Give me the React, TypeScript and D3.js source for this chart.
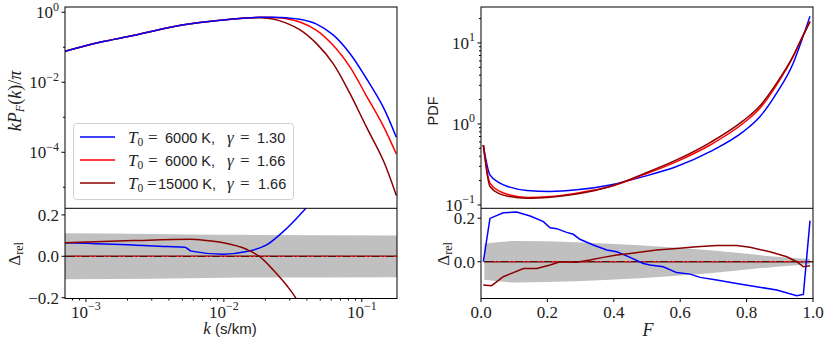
import React from 'react';
import * as d3 from 'd3';

// ---- left panel: flux power spectrum ----
const kTop = [7.05e-4, 1.26e-3, 2.2e-3, 3.85e-3, 6.7e-3, 1.17e-2, 1.82e-2, 2.28e-2, 2.84e-2, 3.55e-2, 4.7e-2, 6.2e-2, 8.2e-2, 0.108, 0.143, 0.178];
const pkBlue = [0.0769, 0.139, 0.216, 0.357, 0.507, 0.645, 0.72, 0.72, 0.695, 0.63, 0.46, 0.225, 0.0665, 0.0128, 1.95e-3, 2.68e-4];
const pkRed = [0.0769, 0.139, 0.216, 0.357, 0.507, 0.645, 0.715, 0.705, 0.65, 0.525, 0.305, 0.114, 0.0275, 4.1e-3, 5.7e-4, 8.9e-5];
const pkDark = [0.0769, 0.139, 0.216, 0.357, 0.507, 0.645, 0.70, 0.645, 0.49, 0.318, 0.127, 0.0342, 4.8e-3, 5.3e-4, 5.9e-5, 5.78e-6];

const kRelBlue = [7.05e-4, 2.2e-3, 3.85e-3, 5.2e-3, 5.8e-3, 9.9e-3, 1.46e-2, 2.04e-2, 2.69e-2, 3.55e-2, 3.97e-2, 4.6e-2];
const relBlueL = [0.066, 0.055, 0.047, 0.044, 0.025, 0.01, 0.023, 0.055, 0.119, 0.2, 0.236, 0.3];
const kRelDark = [7.05e-4, 2.2e-3, 5.67e-3, 7.5e-3, 9.9e-3, 1.46e-2, 1.82e-2, 2.28e-2, 2.84e-2, 3.36e-2, 3.7e-2];
const relDarkL = [0.066, 0.076, 0.082, 0.076, 0.066, 0.034, -0.002, -0.066, -0.139, -0.207, -0.26];
const kBand = [7.05e-4, 3e-3, 1e-2, 0.18];
const bandL = [0.111, 0.108, 0.104, 0.101];

// ---- right panel: flux PDF ----
const fPdf = [0.007, 0.027, 0.057, 0.087, 0.138, 0.208, 0.288, 0.389, 0.489, 0.589, 0.69, 0.79, 0.84, 0.89, 0.94, 0.966, 0.991];
const pdfBlue = [0.55, 0.235, 0.186, 0.166, 0.151, 0.147, 0.154, 0.177, 0.224, 0.298, 0.456, 0.805, 1.23, 2.39, 5.59, 10.8, 21.4];
const pdfRed = [0.55, 0.186, 0.147, 0.133, 0.124, 0.127, 0.14, 0.169, 0.235, 0.343, 0.55, 1.02, 1.56, 3.02, 6.76, 11.4, 18.3];
const pdfDark = [0.55, 0.169, 0.137, 0.127, 0.121, 0.125, 0.137, 0.169, 0.242, 0.36, 0.589, 1.1, 1.67, 3.17, 6.88, 11.4, 18.3];

const fRelBlue = [0.007, 0.027, 0.067, 0.107, 0.148, 0.188, 0.208, 0.228, 0.258, 0.278, 0.298, 0.338, 0.379, 0.409, 0.449, 0.489, 0.509, 0.549, 0.589, 0.63, 0.66, 0.71, 0.77, 0.83, 0.891, 0.951, 0.971, 0.991];
const relBlueR = [0, 0.199, 0.225, 0.228, 0.21, 0.184, 0.156, 0.152, 0.135, 0.126, 0.103, 0.077, 0.054, 0.046, 0.02, -0.008, -0.015, -0.023, -0.05, -0.057, -0.072, -0.084, -0.1, -0.115, -0.13, -0.156, -0.15, 0.189];
const fRelDark = [0.007, 0.032, 0.067, 0.128, 0.168, 0.208, 0.238, 0.288, 0.328, 0.368, 0.409, 0.449, 0.489, 0.529, 0.589, 0.65, 0.71, 0.77, 0.81, 0.87, 0.921, 0.951, 0.971, 0.991];
const relDarkR = [-0.107, -0.11, -0.069, -0.031, -0.031, -0.015, 0, -0.002, 0.008, 0.02, 0.031, 0.038, 0.046, 0.054, 0.061, 0.069, 0.074, 0.074, 0.066, 0.046, 0.023, 0, -0.023, -0.018];
const fBand = [0.01, 0.107, 0.288, 0.489, 0.69, 0.891, 0.991];
const bandR = [0.083, 0.095, 0.09, 0.075, 0.053, 0.023, 0.012];

// legend rows; the third one is typeset tighter in the original
const legendLabels = [
  { color: '#0000ff', temp: '6000 K,', gamma: '1.30', pos: [128, 148, 165, 227, 240, 257] },
  { color: '#ff0000', temp: '6000 K,', gamma: '1.66', pos: [128, 148, 165, 227, 240, 257] },
  { color: '#8b0000', temp: '15000 K,', gamma: '1.66', pos: [128, 147, 158, 227, 240, 258] },
];

const SERIF = '"Liberation Serif", serif';
const SANS = '"Liberation Sans", sans-serif';
const TICK = 17;

const yTop = 7;
const yMid = 208.3;
const yBot = 298.5;

const zip = (xs: number[], ys: number[]) => xs.map((x, i) => [x, ys[i]] as [number, number]);

const Pow = ({ x, y, exp, anchor }: { x: number; y: number; exp: string; anchor: string }) => (
  <text x={x} y={y} textAnchor={anchor} fontFamily={SERIF} fontSize={TICK} fill="#222">
    <tspan>10</tspan>
    <tspan dy={-7.5} fontSize={12}>{exp}</tspan>
  </text>
);

export default function App() {
  const xk = d3.scaleLog().domain([7.05e-4, 0.18]).range([65, 397]);
  const yPk = d3.scaleLog().domain([Math.pow(10, -5.6), Math.pow(10, 0.15)]).range([yMid, yTop]);
  const yRelL = d3.scaleLinear().domain([-0.204, 0.232]).range([yBot, yMid]);
  const xF = d3.scaleLinear().domain([0, 1]).range([481, 813]);
  const yPdf = d3.scaleLog().domain([Math.pow(10, -1.041), Math.pow(10, 1.444)]).range([yMid, yTop]);
  const yRelR = d3.scaleLinear().domain([-0.169, 0.2455]).range([yBot, yMid]);

  const mk = (sx: any, sy: any, curve: any) =>
    d3.line<[number, number]>().x(d => sx(d[0])).y(d => sy(d[1])).curve(curve);
  const band = (sx: any, sy: any) =>
    d3.area<[number, number]>().x(d => sx(d[0])).y0(d => sy(-d[1])).y1(d => sy(d[1])).curve(d3.curveMonotoneX);

  const linePk = mk(xk, yPk, d3.curveCatmullRom.alpha(0.5));
  const lineRelL = mk(xk, yRelL, d3.curveMonotoneX);
  const linePdf = mk(xF, yPdf, d3.curveMonotoneX);
  const lineRelR = mk(xF, yRelR, d3.curveLinear);

  const kMajor = [1e-3, 1e-2, 1e-1];
  const kMinor: number[] = [];
  [1e-4, 1e-3, 1e-2, 1e-1].forEach(b => d3.range(2, 10).forEach(m => {
    const v = b * m;
    if (v >= 7.05e-4 && v <= 0.18) kMinor.push(v);
  }));
  const pdfMinor: number[] = [];
  [1e-1, 1, 10].forEach(b => d3.range(2, 10).forEach(m => {
    const v = b * m;
    if (v <= yPdf.domain()[1]) pdfMinor.push(v);
  }));

  const curveStyle = { fill: 'none', strokeWidth: 1.5 };
  const zeroLine = (x0: number, x1: number, y: number) => (
    <g>
      <line x1={x0} x2={x1} y1={y} y2={y} stroke="#5a0c0c" strokeWidth={1.6} />
      <line x1={x0 + 10} x2={x1} y1={y} y2={y} stroke="#ff2020" strokeWidth={1.2} strokeDasharray="2.5,1.5,2.5,8" />
    </g>
  );

  return (
    <svg width={830} height={348} style={{ position: 'absolute', left: 0, top: 0, background: '#fff' }}>
      <defs>
        <clipPath id="cLT"><rect x={65} y={yTop} width={332} height={yMid - yTop} /></clipPath>
        <clipPath id="cLB"><rect x={65} y={yMid} width={332} height={yBot - yMid} /></clipPath>
        <clipPath id="cRT"><rect x={481} y={yTop} width={332} height={yMid - yTop} /></clipPath>
        <clipPath id="cRB"><rect x={481} y={yMid} width={332} height={yBot - yMid} /></clipPath>
      </defs>

      {/* left top */}
      <g clipPath="url(#cLT)">
        <path d={linePk(zip(kTop, pkDark))!} stroke="#8b0000" {...curveStyle} />
        <path d={linePk(zip(kTop, pkRed))!} stroke="#ff0000" {...curveStyle} />
        <path d={linePk(zip(kTop, pkBlue))!} stroke="#0000ff" {...curveStyle} />
      </g>
      {/* left bottom */}
      <g clipPath="url(#cLB)">
        <path d={band(xk, yRelL)(zip(kBand, bandL))!} fill="#c0c0c0" />
        {zeroLine(65, 397, yRelL(0))}
        <path d={lineRelL(zip(kRelBlue, relBlueL))!} stroke="#0000ff" {...curveStyle} />
        <path d={lineRelL(zip(kRelDark, relDarkL))!} stroke="#8b0000" {...curveStyle} />
      </g>
      {/* right top */}
      <g clipPath="url(#cRT)">
        <path d={linePdf(zip(fPdf, pdfBlue))!} stroke="#0000ff" {...curveStyle} />
        <path d={linePdf(zip(fPdf, pdfRed))!} stroke="#ff0000" {...curveStyle} />
        <path d={linePdf(zip(fPdf, pdfDark))!} stroke="#8b0000" {...curveStyle} />
      </g>
      {/* right bottom */}
      <g clipPath="url(#cRB)">
        <path d={band(xF, yRelR)(zip(fBand, bandR))!} fill="#c0c0c0" />
        {zeroLine(484, 813, yRelR(0))}
        <path d={lineRelR(zip(fRelBlue, relBlueR))!} stroke="#0000ff" {...curveStyle} />
        <path d={lineRelR(zip(fRelDark, relDarkR))!} stroke="#8b0000" {...curveStyle} />
      </g>

      {/* frames */}
      <g fill="none" stroke="#000" strokeWidth={1}>
        <rect x={65} y={yTop} width={332} height={yBot - yTop} />
        <line x1={65} x2={397} y1={yMid} y2={yMid} />
        <rect x={481} y={yTop} width={332} height={yBot - yTop} />
        <line x1={481} x2={813} y1={yMid} y2={yMid} />
      </g>

      {/* left top y ticks */}
      {[0, -2, -4].map(e => (
        <g key={'lt' + e}>
          <line x1={61.5} x2={65} y1={yPk(Math.pow(10, e))} y2={yPk(Math.pow(10, e))} stroke="#000" />
          <Pow x={59} y={yPk(Math.pow(10, e)) + 6} exp={e === 0 ? '0' : '\u2212' + -e} anchor="end" />
        </g>
      ))}
      {[-1, -3, -5].map(e => (
        <line key={'ltm' + e} x1={63} x2={65} y1={yPk(Math.pow(10, e))} y2={yPk(Math.pow(10, e))} stroke="#000" />
      ))}

      {/* left bottom y ticks */}
      {[0.2, 0, -0.2].map(v => (
        <g key={'lb' + v}>
          <line x1={61.5} x2={65} y1={yRelL(v)} y2={yRelL(v)} stroke="#000" />
          <text x={59} y={yRelL(v) + 6} textAnchor="end" fontFamily={SERIF} fontSize={TICK} fill="#222">
            {(v < 0 ? '\u2212' : '') + Math.abs(v).toFixed(1)}
          </text>
        </g>
      ))}

      {/* left x ticks */}
      {kMajor.map((v, i) => (
        <g key={'kx' + v}>
          <line x1={xk(v)} x2={xk(v)} y1={yBot} y2={yBot + 3.5} stroke="#000" />
          <Pow x={xk(v)} y={yBot + 19} exp={'\u2212' + (3 - i)} anchor="middle" />
        </g>
      ))}
      {kMinor.map(v => (
        <line key={'kxm' + v} x1={xk(v)} x2={xk(v)} y1={yBot} y2={yBot + 2} stroke="#000" />
      ))}

      {/* right top y ticks */}
      {[1, 0, -1].map(e => (
        <g key={'rt' + e}>
          <line x1={477.5} x2={481} y1={yPdf(Math.pow(10, e))} y2={yPdf(Math.pow(10, e))} stroke="#000" />
          <Pow x={475} y={yPdf(Math.pow(10, e)) + 6} exp={e < 0 ? '\u22121' : String(e)} anchor="end" />
        </g>
      ))}
      {pdfMinor.map(v => (
        <line key={'rtm' + v} x1={479} x2={481} y1={yPdf(v)} y2={yPdf(v)} stroke="#000" />
      ))}

      {/* right bottom y ticks */}
      {[0.2, 0].map(v => (
        <g key={'rb' + v}>
          <line x1={477.5} x2={481} y1={yRelR(v)} y2={yRelR(v)} stroke="#000" />
          <text x={475} y={yRelR(v) + 6} textAnchor="end" fontFamily={SERIF} fontSize={TICK} fill="#222">
            {v.toFixed(1)}
          </text>
        </g>
      ))}

      {/* right x ticks */}
      {xF.ticks(5).map(v => (
        <g key={'fx' + v}>
          <line x1={xF(v)} x2={xF(v)} y1={yBot} y2={yBot + 3.5} stroke="#000" />
          <text x={xF(v)} y={yBot + 19.5} textAnchor="middle" fontFamily={SERIF} fontSize={TICK} fill="#222">
            {v.toFixed(1)}
          </text>
        </g>
      ))}

      {/* axis labels */}
      <text transform="translate(21,101) rotate(-90)" textAnchor="middle" fontFamily={SERIF} fontSize={18} fill="#222">
        <tspan fontStyle="italic">kP</tspan>
        <tspan fontStyle="italic" fontSize={12} dy={3}>F</tspan>
        <tspan dy={-3}>(</tspan>
        <tspan fontStyle="italic">k</tspan>
        <tspan>)/</tspan>
        <tspan fontStyle="italic">π</tspan>
      </text>
      <text transform="translate(20,254) rotate(-90)" textAnchor="middle" fontFamily={SERIF} fontSize={17} fill="#222">
        <tspan>Δ</tspan>
        <tspan fontSize={12} dy={3}>rel</tspan>
      </text>
      <text x={230} y={334} textAnchor="middle" fontSize={15} fill="#222">
        <tspan fontFamily={SERIF} fontStyle="italic" fontSize={17}>k</tspan>
        <tspan fontFamily={SANS}> (s/km)</tspan>
      </text>

      <text transform="translate(438,111) rotate(-90)" textAnchor="middle" fontFamily={SANS} fontSize={14.5} fill="#222">PDF</text>
      <text transform="translate(449,254) rotate(-90)" textAnchor="middle" fontFamily={SERIF} fontSize={17} fill="#222">
        <tspan>Δ</tspan>
        <tspan fontSize={12} dy={3}>rel</tspan>
      </text>
      <text x={648} y={336} textAnchor="middle" fontFamily={SERIF} fontStyle="italic" fontSize={18} fill="#222">F</text>

      {/* legend */}
      <rect x={73.5} y={123.5} width={220} height={76} rx={3} fill="#fff" fillOpacity={0.85} stroke="#d0d0d0" />
      {legendLabels.map((d, i) => {
        const y = 137 + i * 23;
        const p = d.pos;
        return (
          <g key={'lg' + i} fill="#222">
            <line x1={80} x2={115} y1={y} y2={y} stroke={d.color} strokeWidth={1.5} />
            <text y={y + 5.5}>
              <tspan x={p[0]} fontFamily={SERIF} fontStyle="italic" fontSize={17}>T</tspan>
              <tspan fontFamily={SERIF} fontSize={11.5} dy={3}>0</tspan>
              <tspan x={p[1]} dy={-3} fontFamily={SERIF} fontSize={17}>=</tspan>
              <tspan x={p[2]} fontFamily={SANS} fontSize={14.5}>{d.temp}</tspan>
              <tspan x={p[3]} fontFamily={SERIF} fontStyle="italic" fontSize={17}>γ</tspan>
              <tspan x={p[4]} fontFamily={SERIF} fontSize={17}>=</tspan>
              <tspan x={p[5]} fontFamily={SANS} fontSize={14.5}>{d.gamma}</tspan>
            </text>
          </g>
        );
      })}
    </svg>
  );
}
